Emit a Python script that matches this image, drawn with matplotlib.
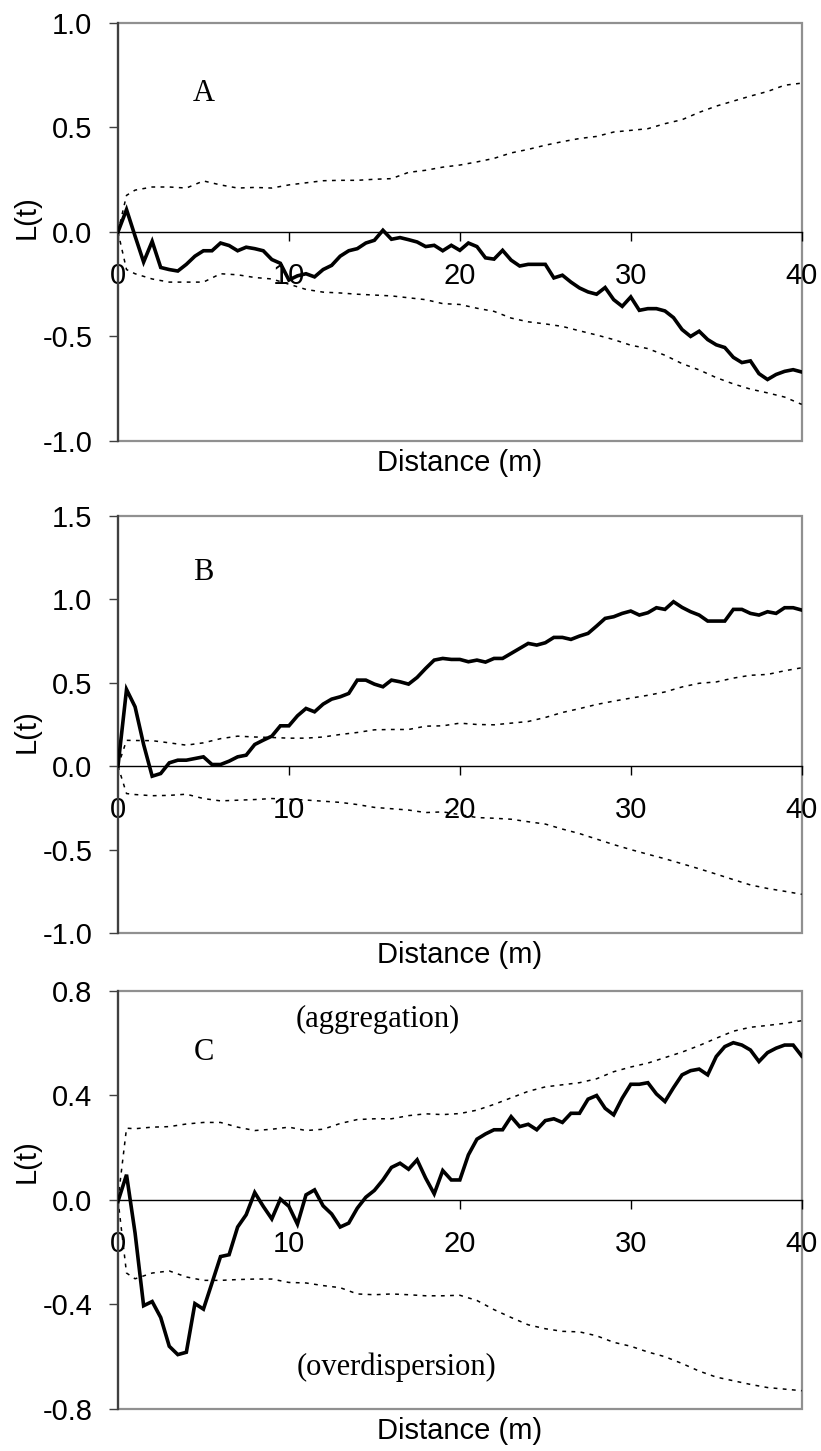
import matplotlib
matplotlib.use('Agg')
import matplotlib.pyplot as plt
import numpy as np
from matplotlib.patches import Rectangle

# distance grid (m)
dist = np.arange(0, 40.5, 0.5)
env_dist = [0, 0.5] + list(range(1, 41))

# observed L(t)
obs_A = [0.0, 0.107, -0.02, -0.144, -0.045, -0.17, -0.18, -0.187, -0.155, -0.116,
         -0.09, -0.09, -0.053, -0.065, -0.09, -0.073, -0.08, -0.09, -0.132, -0.15,
         -0.23, -0.21, -0.2, -0.215, -0.18, -0.16, -0.116, -0.09, -0.08, -0.053,
         -0.04, 0.008, -0.035, -0.027, -0.037, -0.048, -0.07, -0.064, -0.09, -0.064,
         -0.088, -0.053, -0.07, -0.124, -0.13, -0.088, -0.135, -0.163, -0.155, -0.155,
         -0.155, -0.22, -0.207, -0.24, -0.268, -0.287, -0.298, -0.266, -0.324, -0.356,
         -0.311, -0.375, -0.367, -0.367, -0.378, -0.41, -0.467, -0.5, -0.475, -0.515,
         -0.54, -0.553, -0.6, -0.625, -0.617, -0.678, -0.706, -0.682, -0.667, -0.659,
         -0.67]
obs_B = [0.0, 0.46, 0.356, 0.13, -0.06, -0.044, 0.02, 0.036, 0.036, 0.046,
         0.056, 0.01, 0.01, 0.03, 0.056, 0.066, 0.13, 0.156, 0.18, 0.242,
         0.242, 0.302, 0.346, 0.326, 0.372, 0.402, 0.416, 0.436, 0.516, 0.516,
         0.492, 0.476, 0.516, 0.506, 0.492, 0.532, 0.586, 0.636, 0.646, 0.64,
         0.64, 0.626, 0.636, 0.624, 0.646, 0.646, 0.676, 0.706, 0.736, 0.726,
         0.74, 0.772, 0.772, 0.76, 0.78, 0.796, 0.84, 0.886, 0.896, 0.916,
         0.93, 0.906, 0.92, 0.95, 0.94, 0.986, 0.952, 0.926, 0.906, 0.87,
         0.87, 0.87, 0.94, 0.94, 0.916, 0.906, 0.926, 0.916, 0.95, 0.95,
         0.936]
obs_C = [-0.006, 0.096, -0.127, -0.405, -0.389, -0.45, -0.56, -0.592, -0.583, -0.397,
         -0.418, -0.318, -0.217, -0.21, -0.104, -0.057, 0.028, -0.025, -0.073, 0.003,
         -0.025, -0.093, 0.019, 0.038, -0.023, -0.054, -0.104, -0.089, -0.032, 0.01,
         0.036, 0.076, 0.124, 0.14, 0.117, 0.153, 0.083, 0.023, 0.112, 0.076,
         0.076, 0.172, 0.232, 0.252, 0.268, 0.268, 0.318, 0.28, 0.289, 0.268,
         0.303, 0.31, 0.296, 0.331, 0.331, 0.385, 0.399, 0.35, 0.325, 0.389,
         0.442, 0.442, 0.448, 0.405, 0.376, 0.429, 0.478, 0.494, 0.5, 0.478,
         0.548, 0.586, 0.601, 0.592, 0.573, 0.529, 0.563, 0.58, 0.592, 0.592,
         0.55]

# confidence envelopes
up_A = [0.0, 0.175, 0.2, 0.215, 0.215, 0.21, 0.244, 0.225, 0.21, 0.213, 0.21,
        0.225, 0.235, 0.245, 0.247, 0.247, 0.252, 0.255, 0.285, 0.295, 0.31,
        0.32, 0.335, 0.352, 0.378, 0.395, 0.415, 0.432, 0.447, 0.457, 0.478,
        0.486, 0.494, 0.518, 0.537, 0.572, 0.602, 0.626, 0.65, 0.672, 0.702, 0.712]
lo_A = [0.0, -0.18, -0.2, -0.225, -0.24, -0.24, -0.24, -0.2, -0.205, -0.218, -0.225,
        -0.25, -0.275, -0.288, -0.292, -0.298, -0.302, -0.306, -0.315, -0.324, -0.343,
        -0.347, -0.365, -0.38, -0.412, -0.43, -0.44, -0.452, -0.473, -0.493, -0.515,
        -0.542, -0.558, -0.59, -0.63, -0.66, -0.697, -0.727, -0.752, -0.77, -0.79, -0.825]
up_B = [0.0, 0.155, 0.154, 0.153, 0.14, 0.126, 0.14, 0.165, 0.18, 0.175, 0.172,
        0.168, 0.168, 0.175, 0.19, 0.202, 0.218, 0.22, 0.22, 0.24, 0.242,
        0.258, 0.25, 0.248, 0.258, 0.268, 0.292, 0.322, 0.345, 0.37, 0.39,
        0.408, 0.425, 0.445, 0.475, 0.497, 0.505, 0.528, 0.545, 0.55, 0.572, 0.59]
lo_B = [0.0, -0.164, -0.17, -0.177, -0.175, -0.168, -0.194, -0.208, -0.204, -0.2, -0.194,
        -0.198, -0.203, -0.21, -0.217, -0.23, -0.247, -0.255, -0.263, -0.278, -0.274,
        -0.29, -0.308, -0.312, -0.318, -0.333, -0.347, -0.377, -0.404, -0.437, -0.47,
        -0.5, -0.528, -0.555, -0.585, -0.615, -0.647, -0.68, -0.712, -0.733, -0.75, -0.768]
up_C = [0.0, 0.274, 0.272, 0.278, 0.28, 0.29, 0.296, 0.296, 0.278, 0.265, 0.27,
        0.278, 0.265, 0.27, 0.292, 0.307, 0.31, 0.31, 0.322, 0.329, 0.326,
        0.33, 0.343, 0.365, 0.39, 0.415, 0.432, 0.44, 0.448, 0.463, 0.49,
        0.508, 0.523, 0.544, 0.565, 0.59, 0.618, 0.645, 0.66, 0.667, 0.675, 0.685]
lo_C = [0.0, -0.28, -0.302, -0.28, -0.272, -0.295, -0.308, -0.308, -0.305, -0.303, -0.303,
        -0.316, -0.318, -0.328, -0.336, -0.36, -0.363, -0.36, -0.363, -0.367, -0.367,
        -0.365, -0.385, -0.42, -0.45, -0.478, -0.493, -0.503, -0.505, -0.52, -0.545,
        -0.56, -0.582, -0.6, -0.626, -0.655, -0.678, -0.692, -0.706, -0.718, -0.724, -0.73]

xticks = [0, 10, 20, 30, 40]
yticks_A = [-1.0, -0.5, 0.0, 0.5, 1.0]
yticks_B = [-1.0, -0.5, 0.0, 0.5, 1.0, 1.5]
yticks_C = [-0.8, -0.4, 0.0, 0.4, 0.8]

sans = 'Liberation Sans'
serif = 'Liberation Serif'
fs = 21

fig = plt.figure(figsize=(8.21, 14.51), dpi=100)


def panel(rect, obs, up, lo, yticks, letter, letter_y, ylab_y):
    ax = fig.add_axes(rect)
    # excel style: x axis through zero, grey plot-area border
    # (spine position first, it resets the ticks)
    ax.spines['bottom'].set_position(('data', 0))
    ax.spines['bottom'].set_color('black')
    ax.spines['bottom'].set_linewidth(1.0)
    ax.spines['left'].set_color('#404040')
    ax.spines['left'].set_linewidth(1.6)
    ax.spines['top'].set_visible(False)
    ax.spines['right'].set_visible(False)
    ax.add_patch(Rectangle((0, 0), 1, 1, transform=ax.transAxes, fill=False,
                           edgecolor='#909090', lw=1.6, zorder=0.5, clip_on=False))

    ax.plot(env_dist, up, color='black', lw=1.1, linestyle=(0, (2.5, 3.5)))
    ax.plot(env_dist, lo, color='black', lw=1.1, linestyle=(0, (2.5, 3.5)))
    ax.plot(dist, obs, color='black', lw=2.6, solid_joinstyle='miter', zorder=3)
    ax.set_xlim(0, 40)
    ax.set_ylim(yticks[0], yticks[-1])
    ax.set_yticks(yticks)
    ax.set_yticklabels(['%.1f' % v for v in yticks], fontfamily=sans, fontsize=fs)
    ax.set_xticks(xticks)
    ax.set_xticklabels([str(v) for v in xticks], fontfamily=sans, fontsize=fs)
    ax.tick_params(axis='x', direction='out', length=6.5, width=1, color='black', pad=15)
    ax.tick_params(axis='y', direction='out', length=6.5, width=1, color='#404040', pad=12)

    ax.text(5, letter_y, letter, fontfamily=serif, fontsize=22, ha='center', va='center')
    ax.text(-0.133, ylab_y, 'L(t)', transform=ax.transAxes, rotation=90,
            fontfamily=sans, fontsize=fs, ha='center', va='center')
    ax.text(0.5, -0.053, 'Distance (m)', transform=ax.transAxes,
            fontfamily=sans, fontsize=fs, ha='center', va='center')
    return ax


axA = panel([0.1437, 0.6961, 0.8328, 0.2881], obs_A, up_A, lo_A, yticks_A, 'A', 0.66, 0.536)
axB = panel([0.1437, 0.3570, 0.8328, 0.2874], obs_B, up_B, lo_B, yticks_B, 'B', 1.16, 0.484)
axC = panel([0.1437, 0.02895, 0.8328, 0.2883], obs_C, up_C, lo_C, yticks_C, 'C', 0.563, 0.593)

axC.text(15.2, 0.688, '(aggregation)', fontfamily=serif, fontsize=22, ha='center', va='center')
axC.text(16.3, -0.642, '(overdispersion)', fontfamily=serif, fontsize=22, ha='center', va='center')

fig.savefig('out.png', dpi=100)
